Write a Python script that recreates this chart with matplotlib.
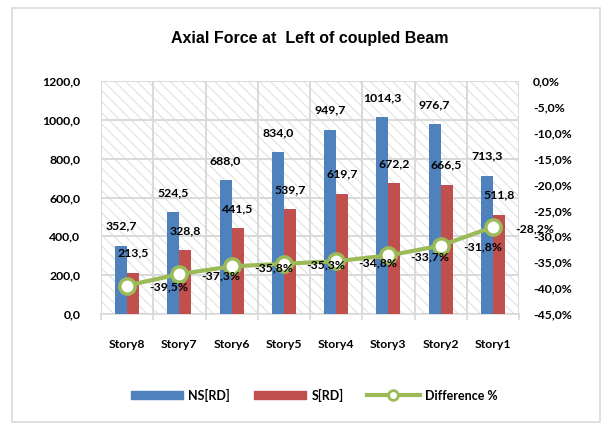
import matplotlib.pyplot as plt
from matplotlib.patches import Rectangle
from matplotlib.lines import Line2D
from matplotlib.ticker import FuncFormatter, FixedLocator
import numpy as np

stories = ["Story8", "Story7", "Story6", "Story5", "Story4", "Story3", "Story2", "Story1"]
ns_rd = [352.7, 524.5, 688.0, 834.0, 949.7, 1014.3, 976.7, 713.3]
s_rd = [213.5, 328.8, 441.5, 539.7, 619.7, 672.2, 666.5, 511.8]
diff_pct = [-39.5, -37.3, -35.8, -35.3, -34.8, -33.7, -31.8, -28.2]

BLUE = "#4F81BD"
RED = "#C0504D"
GREEN = "#9BBB59"
GRID = "#d9d9d9"

plt.rcParams["hatch.linewidth"] = 0.7
plt.rcParams["hatch.color"] = "#dedede"


def comma(v, dec=1):
    return f"{v:.{dec}f}".replace(".", ",")


def grafico():
    fig = plt.figure(figsize=(6.1, 4.24), dpi=100)
    # chart border
    fig.patches.append(Rectangle((12 / 610, 2 / 424), 588 / 610, 414 / 424,
                                 transform=fig.transFigure, fill=False,
                                 edgecolor="#d9d9d9", linewidth=1.2))
    ax = fig.add_axes([101 / 610, 110 / 424, 418 / 610, 233 / 424])
    ax.set_facecolor("white")
    ax.add_patch(Rectangle((0, 0), 1, 1, transform=ax.transAxes, facecolor="white",
                           edgecolor="#dedede", hatch="\\\\\\", linewidth=0, zorder=0))

    x = np.arange(len(stories))
    w = 0.23
    ax.bar(x - w / 2, ns_rd, w, color=BLUE, zorder=3, label="NS[RD]")
    ax.bar(x + w / 2, s_rd, w, color=RED, zorder=3, label="S[RD]")

    lab_font = dict(family="Lato", fontweight="bold", fontsize=8.8, color="black")
    for xi, v in zip(x, ns_rd):
        ax.annotate(comma(v), (xi - w / 2, v), xytext=(0, 14), textcoords="offset points",
                    ha="center", va="center", zorder=6, **lab_font)
    for xi, v in zip(x, s_rd):
        ax.annotate(comma(v), (xi + w / 2, v), xytext=(0, 14), textcoords="offset points",
                    ha="center", va="center", zorder=6, **lab_font)

    ax.set_xlim(-0.5, len(stories) - 0.5)
    ax.set_ylim(0, 1200)
    ax.set_yticks(np.arange(0, 1201, 200))
    ax.yaxis.set_major_formatter(FuncFormatter(lambda v, p: comma(v)))
    ax.set_xticks(x)
    ax.set_xticklabels(stories)
    ax.xaxis.set_minor_locator(FixedLocator(np.arange(-0.5, len(stories), 1)))
    ax.tick_params(axis="x", which="major", length=0, pad=18)
    ax.tick_params(axis="x", which="minor", length=4, color=GRID, width=1.2)
    ax.tick_params(axis="y", length=0, pad=15)
    ax.grid(axis="y", which="major", color=GRID, linewidth=1.4, zorder=1)
    ax.grid(axis="x", which="minor", color=GRID, linewidth=1.4, zorder=1)
    ax.set_axisbelow(True)
    for s in ["top", "right", "left"]:
        ax.spines[s].set_visible(False)
    ax.spines["bottom"].set_color(GRID)
    ax.spines["bottom"].set_linewidth(1.2)
    for t in ax.get_xticklabels() + ax.get_yticklabels():
        t.set_fontweight("bold")
        t.set_fontsize(8.8)
        t.set_family("Lato")

    ax2 = ax.twinx()
    ax2.plot(x, diff_pct, color=GREEN, linewidth=3, marker="o", markersize=11,
             markerfacecolor="white", markeredgecolor=GREEN, markeredgewidth=2.5,
             zorder=5, label="Difference %")
    for xi, v in zip(x, diff_pct):
        ax2.annotate(comma(v) + "%", (xi, v), xytext=(30, -1), textcoords="offset points",
                     ha="center", va="center", zorder=6, **lab_font)
    ax2.set_ylim(-45, 0)
    ax2.set_yticks(np.arange(-45, 1, 5))
    ax2.yaxis.set_major_formatter(FuncFormatter(lambda v, p: comma(v) + "%"))
    ax2.tick_params(axis="y", length=0, pad=10)
    for s in ax2.spines.values():
        s.set_visible(False)
    for t in ax2.get_yticklabels():
        t.set_fontweight("bold")
        t.set_fontsize(8.8)
        t.set_family("Lato")

    fig.text(310 / 610, 1 - 38 / 424, "Axial Force at  Left of coupled Beam", ha="center",
             va="center", fontsize=11.5, fontweight="bold", family="Liberation Sans")

    handles = [Rectangle((0, 0), 1, 1, color=BLUE), Rectangle((0, 0), 1, 1, color=RED),
               Line2D([0], [0], color=GREEN, linewidth=3, marker="o", markersize=7,
                      markerfacecolor="white", markeredgecolor=GREEN, markeredgewidth=2)]
    fig.legend(handles, ["NS[RD]", "S[RD]", "Difference %"], loc="center",
               bbox_to_anchor=(314 / 610, 1 - 395 / 424), ncol=3, frameon=False,
               handlelength=4.2, handleheight=0.6, handletextpad=0.4, columnspacing=1.9,
               prop=dict(family="Lato", weight="bold", size=9))

    fig.savefig("out.png", dpi=100)


def main():
    grafico()


if __name__ == "__main__":
    main()
